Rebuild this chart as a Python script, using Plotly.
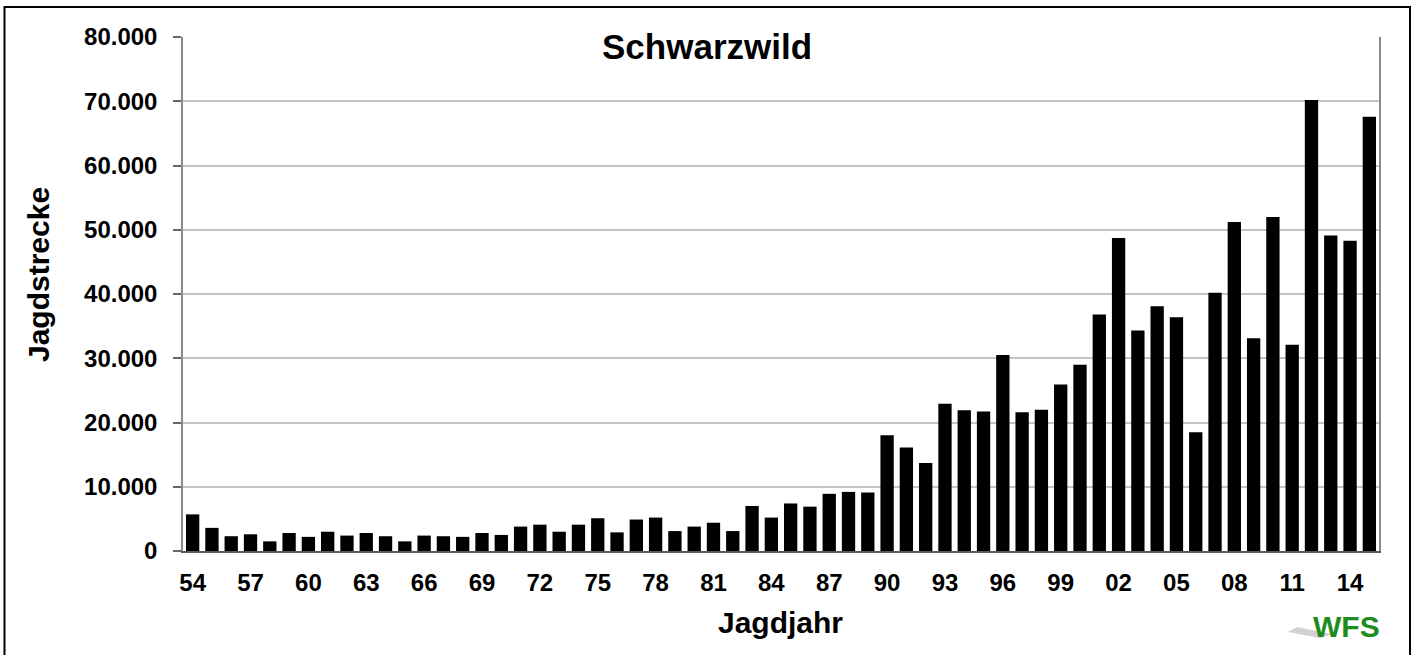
import plotly.graph_objects as go

jahre = [f"{y % 100:02d}" for y in range(1954, 2016)]
strecke = [
    5700, 3600, 2300, 2600, 1500, 2800, 2200, 3000, 2400, 2800,   # 54-63
    2300, 1500, 2400, 2300, 2200, 2800, 2500, 3800, 4100, 3000,   # 64-73
    4100, 5100, 2900, 4900, 5200, 3100, 3800, 4400, 3100, 7000,   # 74-83
    5200, 7400, 6900, 8900, 9200, 9100, 18000, 16100, 13700, 22900,  # 84-93
    21900, 21700, 30500, 21600, 22000, 25900, 29000, 36800, 48700, 34300,  # 94-03
    38100, 36400, 18500, 40200, 51200, 33100, 52000, 32100, 70200, 49100,  # 04-13
    48300, 67600,  # 14-15
]
tick_labels = jahre[::3]
y_ticks = [0, 10000, 20000, 30000, 40000, 50000, 60000, 70000, 80000]

FONT = "Liberation Sans, Arial, sans-serif"

# plot area in pixels
L, R, T, B = 183, 1379, 37, 551
W, H = R - L, B - T


def px(x):
    return (x - L) / W


def py(y):
    return (B - y) / H


fig = go.Figure(
    go.Bar(
        x=jahre,
        y=strecke,
        marker=dict(color="black", line=dict(width=0)),
        hoverinfo="x+y",
    )
)

fig.update_layout(
    width=1415,
    height=655,
    margin=dict(l=L, r=1415 - R, t=T, b=655 - B),
    paper_bgcolor="white",
    plot_bgcolor="white",
    separators=",.",
    bargap=0.31,
    showlegend=False,
    font=dict(family=FONT, color="black", size=22, weight="bold"),
)

fig.update_xaxes(
    type="category",
    tickmode="array",
    tickvals=tick_labels,
    ticktext=tick_labels,
    ticks="",
    showgrid=False,
    showline=True,
    linecolor="#5a5a5a",
    linewidth=2,
    tickfont=dict(family=FONT, size=24, color="black", weight="bold"),
    ticklabelstandoff=9,
    zeroline=False,
)

fig.update_yaxes(
    range=[0, 80000],
    tickmode="array",
    tickvals=y_ticks,
    tickformat=",d",
    ticks="outside",
    ticklen=8,
    tickwidth=1.5,
    tickcolor="#666666",
    showline=True,
    linecolor="#8a8a8a",
    linewidth=1.5,
    mirror=True,
    showgrid=True,
    gridcolor="#c4c4c4",
    gridwidth=2,
    zeroline=False,
    tickfont=dict(family=FONT, size=24, color="black", weight="bold"),
    ticklabelstandoff=11,
)

fig.add_annotation(
    text="Schwarzwild",
    xref="paper", yref="paper",
    x=px(707), y=py(46),
    xanchor="center", yanchor="middle",
    showarrow=False,
    bgcolor="white",
    borderpad=6,
    font=dict(family=FONT, size=35, color="black", weight="bold"),
)
fig.add_annotation(
    text="Jagdstrecke",
    xref="paper", yref="paper",
    x=px(38), y=py(275),
    xanchor="center", yanchor="middle",
    textangle=-90,
    showarrow=False,
    font=dict(family=FONT, size=30, color="black", weight="bold"),
)
fig.add_annotation(
    text="Jagdjahr",
    xref="paper", yref="paper",
    x=px(780), y=py(622),
    xanchor="center", yanchor="middle",
    showarrow=False,
    font=dict(family=FONT, size=30, color="black", weight="bold"),
)

# WFS logo: grey shadow shape + green text
def pt(x, y):
    return f"{px(x)},{py(y)}"


fig.add_shape(
    type="path",
    xref="paper", yref="paper",
    path=f"M {pt(1320, 638)} L {pt(1288, 632)} L {pt(1297, 627)} L {pt(1332, 634)} Z",
    fillcolor="#d2d2d2",
    line=dict(width=0),
    layer="above",
)
fig.add_annotation(
    text="WFS",
    xref="paper", yref="paper",
    x=px(1346), y=py(626),
    xanchor="center", yanchor="middle",
    showarrow=False,
    font=dict(family=FONT, size=30, color="#1e8c1e", weight="bold"),
)

# outer frame
fig.add_shape(
    type="rect",
    xref="paper", yref="paper",
    x0=px(4.5), x1=px(1410), y0=py(662), y1=py(7),
    line=dict(color="black", width=2),
    fillcolor="rgba(0,0,0,0)",
    layer="above",
)

fig.write_html(
    "out.html",
    config={"displayModeBar": False},
    post_script="document.body.style.margin='0px';document.body.style.padding='0px';",
)
